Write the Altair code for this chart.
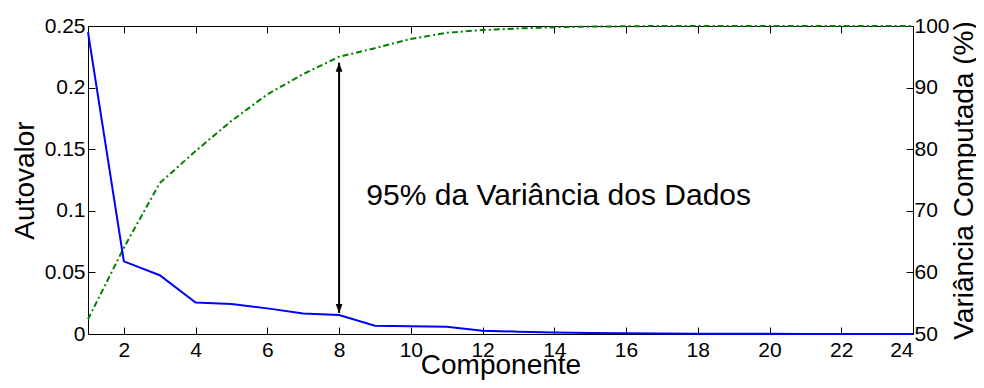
import altair as alt
import pandas as pd

# ---- data ----
componente = list(range(1, 25))
autovalor = [0.245, 0.059, 0.0477, 0.0256, 0.0243, 0.0208, 0.0167, 0.0154,
             0.0067, 0.0062, 0.0058, 0.0027, 0.0019, 0.0013, 0.0009, 0.0006,
             0.0004, 0.0003, 0.0002, 0.0002, 0.0001, 0.0001, 0.0, 0.0]
variancia = [52.4, 64.0, 74.5, 79.7, 84.6, 88.9, 92.2, 95.0,
             96.4, 97.9, 98.9, 99.35, 99.6, 99.8, 99.9, 99.95,
             100.0, 100.0, 100.0, 100.0, 100.0, 100.0, 100.0, 100.0]

x_ticks = list(range(2, 25, 2))
left_ticks = [0, 0.05, 0.1, 0.15, 0.2, 0.25]
right_ticks = [50, 60, 70, 80, 90, 100]

arrow_x = [8]
arrow_top = [0.2202]
arrow_bottom = [0.0171]

annotation_text = ["95% da Variância dos Dados"]
annotation_x = [8.76]
annotation_y = [0.1047]

df = pd.DataFrame({"componente": componente, "autovalor": autovalor, "variancia": variancia})
arrow_df = pd.DataFrame({"ax": arrow_x, "top": arrow_top, "bottom": arrow_bottom})
text_df = pd.DataFrame({"tx": annotation_x, "ty": annotation_y, "label": annotation_text})

FONT = "Liberation Sans"
TICK = alt.ExprRef(expr="-7")


def xs():
    return alt.Scale(domain=[1, 24], nice=False)


def ls():
    return alt.Scale(domain=[0, 0.25], nice=False, zero=False)


rscale = alt.Scale(domain=[50, 100], nice=False, zero=False)

blue = alt.Chart(df).mark_line(color="#0000ff", strokeWidth=2).encode(
    x=alt.X("componente:Q", scale=xs(),
            axis=alt.Axis(orient="bottom", values=x_ticks, title="Componente",
                          tickSize=TICK, labelPadding=12, titlePadding=-9)),
    y=alt.Y("autovalor:Q", scale=ls(),
            axis=alt.Axis(orient="left", values=left_ticks, format="~g", title="Autovalor",
                          tickSize=TICK, labelPadding=10, titlePadding=5)),
)

green = alt.Chart(df).mark_line(color="#008000", strokeWidth=2, strokeDash=[6, 3, 2, 3]).encode(
    x=alt.X("componente:Q", scale=xs(),
            axis=alt.Axis(orient="top", values=x_ticks, labels=False, title=None, tickSize=TICK)),
    y=alt.Y("variancia:Q", scale=rscale,
            axis=alt.Axis(orient="right", values=right_ticks, title="Variância Computada (%)",
                          titleAngle=270, titleBaseline="top", tickSize=TICK,
                          labelPadding=8, titlePadding=1)),
)

rule = alt.Chart(arrow_df).mark_rule(color="black", strokeWidth=2).encode(
    x=alt.X("ax:Q", scale=xs(), axis=None),
    y=alt.Y("top:Q", scale=ls(), axis=None),
    y2="bottom:Q",
)

head_up = alt.Chart(arrow_df).mark_point(
    shape="M0,0L-0.38,1L0.38,1Z", filled=True, size=324, color="black", opacity=1, strokeWidth=0
).encode(
    x=alt.X("ax:Q", scale=xs(), axis=None),
    y=alt.Y("top:Q", scale=ls(), axis=None),
)

head_down = alt.Chart(arrow_df).mark_point(
    shape="M0,0L-0.38,-1L0.38,-1Z", filled=True, size=324, color="black", opacity=1, strokeWidth=0
).encode(
    x=alt.X("ax:Q", scale=xs(), axis=None),
    y=alt.Y("bottom:Q", scale=ls(), axis=None),
)

text = alt.Chart(text_df).mark_text(
    align="left", baseline="alphabetic", fontSize=30, font=FONT, color="black"
).encode(
    x=alt.X("tx:Q", scale=xs(), axis=None),
    y=alt.Y("ty:Q", scale=ls(), axis=None),
    text="label:N",
)

chart = alt.layer(green, blue, rule, head_up, head_down, text).resolve_scale(
    y="independent"
).resolve_axis(
    x="independent", y="independent"
).properties(
    width=825, height=308, autosize="none",
    padding={"left": 80, "top": 18, "right": 63, "bottom": 46},
).configure_view(
    stroke="black", strokeWidth=1
).configure_axis(
    grid=False, domain=False, labelFont=FONT, titleFont=FONT, labelFontSize=21,
    titleFontSize=28, titleFontWeight="normal", labelColor="black", titleColor="black",
    tickColor="black", tickWidth=1,
)

chart.save("out.html", embed_options={"renderer": "svg", "actions": False})
